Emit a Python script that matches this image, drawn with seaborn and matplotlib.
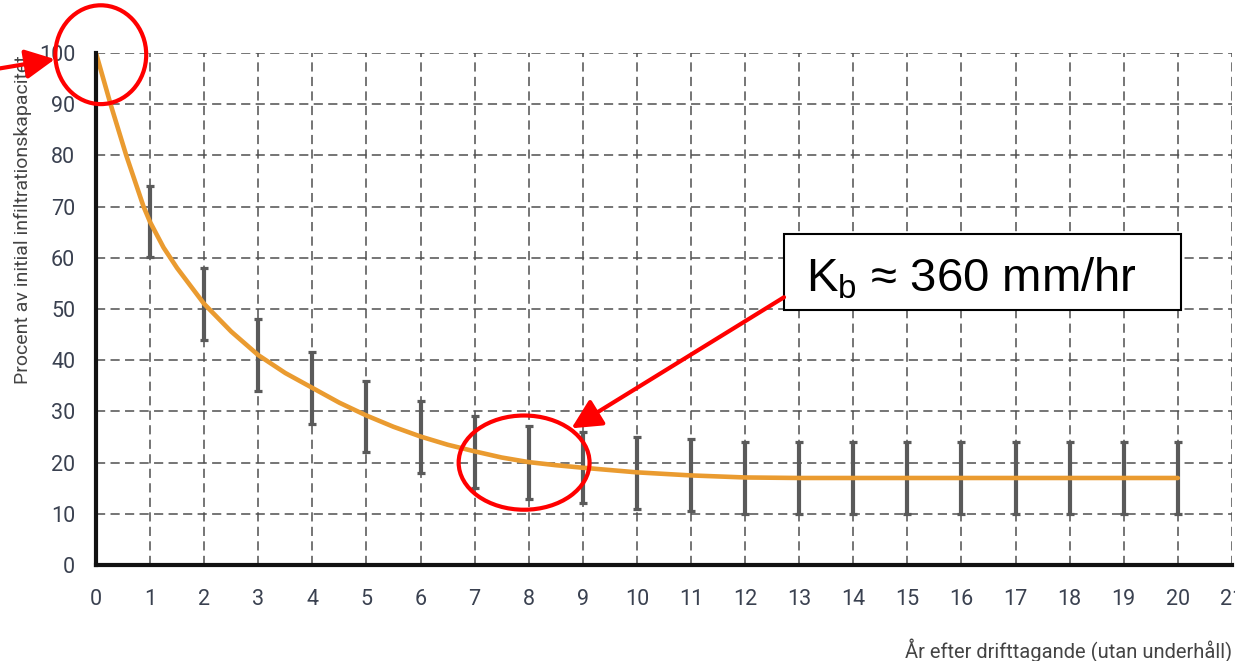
import matplotlib
matplotlib.use("Agg")
import matplotlib.pyplot as plt
from matplotlib.patches import Ellipse, Rectangle
import pandas as pd
import seaborn as sns

# Infiltration capacity decay curve (percent of initial capacity)
curve_years = [0, 0.27, 0.56, 0.88, 1, 1.25, 1.5, 2, 2.5, 3, 3.5, 4, 4.5, 5,
               5.5, 6, 6.5, 7, 7.5, 8, 8.5, 9, 10, 11, 12,
               13, 14, 15, 16, 17, 18, 19, 20]
curve_pct = [100, 90, 80, 70, 67, 62, 58, 51, 45.6, 41, 37.5, 34.6, 31.7, 29.2,
             27, 25.1, 23.5, 22.2, 21, 20.1, 19.5, 19, 18.1, 17.5, 17.1,
             17, 17, 17, 17, 17, 17, 17, 17]

# Spread (min / max) per year
bar_years = list(range(1, 21))
bar_high = [74, 58, 48, 41.6, 36, 32, 29.2, 27.2, 26, 25, 24.6, 24.1,
            24, 24, 24, 24, 24, 24, 24, 24]
bar_low = [60.2, 44, 34, 27.5, 22, 18, 15, 12.9, 12.2, 11, 10.5, 10,
           10, 10, 10, 10, 10, 10, 10, 10]

x_ticks = list(range(0, 22))
y_ticks = list(range(0, 101, 10))

ylabel_text = "Procent av initial infiltrationskapacitet"
xlabel_text = "År efter drifttagande (utan underhåll)"
note_text = r"K$_\mathrm{b}$ ≈ 360 mm/hr"

sns.set_theme(style="white")
plt.rcParams["font.family"] = ["Roboto", "DejaVu Sans"]
plt.rcParams["mathtext.fontset"] = "custom"
plt.rcParams["mathtext.rm"] = "Liberation Sans"
plt.rcParams["mathtext.it"] = "Liberation Sans:italic"

fig = plt.figure(figsize=(12.35, 6.61), dpi=100)
ax = fig.add_axes([0.0777, 0.1452, 0.9198, 0.7746])

curve_df = pd.DataFrame({"year": curve_years, "pct": curve_pct})
sns.lineplot(data=curve_df, x="year", y="pct", ax=ax, color="#EA9B30",
             linewidth=3.3, zorder=4, estimator=None, sort=True)

bars = pd.DataFrame({"year": bar_years, "high": bar_high, "low": bar_low})
mid = (bars["high"] + bars["low"]) / 2
half = (bars["high"] - bars["low"]) / 2
ax.errorbar(bars["year"], mid, yerr=half, fmt="none", ecolor="#5a5a5a",
            elinewidth=3, capsize=3.2, capthick=2.3, zorder=3)

ax.set_xlim(0, 21)
ax.set_ylim(0, 100)
ax.set_xticks(x_ticks)
ax.set_yticks(y_ticks)
ax.grid(True, color="#4f4f4f", linestyle=(0, (6, 3.5)), linewidth=1.1)
ax.set_axisbelow(True)

for side in ["top", "right"]:
    ax.spines[side].set_visible(False)
for side in ["left", "bottom"]:
    ax.spines[side].set_color("#111111")
    ax.spines[side].set_linewidth(3)
    ax.spines[side].set_zorder(5)

ax.tick_params(axis="x", length=0, pad=17, labelsize=15.5, labelcolor="#3a4150")
ax.tick_params(axis="y", length=0, pad=15, labelsize=15.5, labelcolor="#3a4150")

ax.set_ylabel(ylabel_text, fontsize=14, color="#444444")
ax.yaxis.set_label_coords(-0.0640, 0.674)
ax.yaxis.label.set_verticalalignment("center")

ax.set_xlabel(xlabel_text, fontsize=14.5, color="#444444")
ax.xaxis.set_label_coords(1.0, -0.168)
ax.xaxis.label.set_horizontalalignment("right")
ax.xaxis.label.set_verticalalignment("center")

# Callout box with the saturated conductivity
box = Rectangle((12.72, 49.8), 7.34, 14.8, facecolor="white",
                edgecolor="black", linewidth=1.5, zorder=6, clip_on=False)
ax.add_patch(box)
ax.text(13.12, 53.5, note_text, fontsize=34, color="black", ha="left",
        va="baseline", zorder=7, family=["Liberation Sans", "DejaVu Sans"])

# Highlights
ax.add_patch(Ellipse((7.915, 20.0), 2.42, 18.4, fill=False, edgecolor="#FF0000",
                     linewidth=3, zorder=8, clip_on=False))
ax.add_patch(Ellipse((0.089, 99.67), 1.68, 19.3, fill=False, edgecolor="#FF0000",
                     linewidth=3, zorder=8, clip_on=False))

arrow_kw = dict(arrowstyle="-|>,head_length=0.9,head_width=0.45",
                color="#FF0000", lw=3, mutation_scale=20, shrinkA=0, shrinkB=0)
ax.annotate("", xy=(8.79, 26.7), xytext=(12.72, 52.3), arrowprops=arrow_kw,
            annotation_clip=False, zorder=8)
ax.annotate("", xy=(-0.758, 98.8), xytext=(-2.0, 96.6), arrowprops=arrow_kw,
            annotation_clip=False, zorder=8)

fig.savefig("out.png", dpi=100)
